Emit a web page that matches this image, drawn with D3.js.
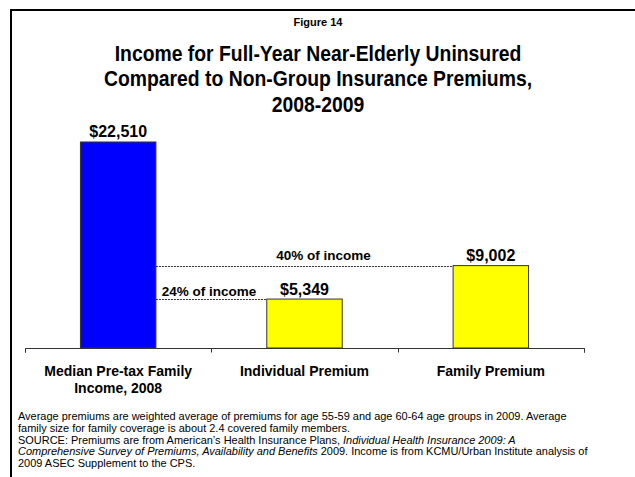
<!DOCTYPE html>
<html>
<head>
<meta charset="utf-8">
<script src="https://cdn.jsdelivr.net/npm/d3@7"></script>
<style>
  html, body { margin: 0; padding: 0; background: #fff; }
  svg { display: block; font-family: "Liberation Sans", Arial, sans-serif; }
</style>
</head>
<body>
<svg id="chart" width="635" height="477"></svg>
<script>
// Chart data
const categories = ["Median Pre-tax Family|Income, 2008", "Individual Premium", "Family Premium"];
const values = [22510, 5349, 9002];
const barColors = ["#0000FF", "#FFFF00", "#FFFF00"];
const valueLabels = ["$22,510", "$5,349", "$9,002"];
// Share of income represented by each premium
const shareLabels = ["24% of income", "40% of income"];

const titleLines = [
  "Income for Full-Year Near-Elderly Uninsured",
  "Compared to Non-Group Insurance Premiums,",
  "2008-2009"
];
const noteLines = [
  [{t: "Average premiums are weighted average of premiums for age 55-59 and age 60-64 age groups in 2009. Average"}],
  [{t: "family size for family coverage is about 2.4 covered family members."}],
  [{t: "SOURCE: Premiums are from American\u2019s Health Insurance Plans, "}, {t: "Individual Health Insurance 2009: A", i: true}],
  [{t: "Comprehensive Survey of Premiums, Availability and Benefits", i: true}, {t: " 2009.  Income is from KCMU/Urban Institute analysis of"}],
  [{t: "2009 ASEC Supplement to the CPS."}]
];

const svg = d3.select("#chart");

// Frame
svg.append("line").attr("x1", 10).attr("x2", 635).attr("y1", 10).attr("y2", 10)
  .attr("stroke", "#000").attr("stroke-width", 2);
svg.append("line").attr("x1", 11).attr("x2", 11).attr("y1", 9).attr("y2", 477)
  .attr("stroke", "#000").attr("stroke-width", 2);

// Titles (set slightly condensed)
const cxTitle = 318;
svg.append("text").attr("x", cxTitle).attr("y", 26).attr("text-anchor", "middle")
  .attr("font-size", 11).attr("font-weight", "bold").text("Figure 14");
svg.append("g")
  .attr("transform", `translate(${cxTitle},0) scale(0.88,1)`)
  .selectAll("text").data(titleLines).join("text")
  .attr("x", 0).attr("y", (d, i) => 61 + i * 25.5)
  .attr("text-anchor", "middle").attr("font-size", 22).attr("font-weight", "bold")
  .text(d => d);

// Scales
const x = d3.scaleBand().domain(categories).range([25, 584]).paddingInner(0).paddingOuter(0);
const y = d3.scaleLinear().domain([0, 25000]).range([348, 119.2]);
const barW = x.bandwidth() * 0.405;
const cx = d => x(d) + x.bandwidth() / 2;

// Bars
svg.selectAll("rect.bar").data(values).join("rect")
  .attr("class", "bar")
  .attr("x", (d, i) => cx(categories[i]) - barW / 2)
  .attr("y", d => y(d))
  .attr("width", barW)
  .attr("height", d => y(0) - y(d))
  .attr("fill", (d, i) => barColors[i])
  .attr("stroke", "#333").attr("stroke-width", 1);

// Value labels
svg.selectAll("text.val").data(values).join("text")
  .attr("class", "val")
  .attr("x", (d, i) => cx(categories[i]))
  .attr("y", d => y(d) - 4.5)
  .attr("text-anchor", "middle").attr("font-size", 16).attr("font-weight", "bold")
  .text((d, i) => valueLabels[i]);

// Dotted reference lines from the income bar to each premium bar
const incomeRight = cx(categories[0]) + barW / 2;
[1, 2].forEach(k => {
  const yy = Math.round(y(values[k])) + 0.5;
  svg.append("line")
    .attr("x1", incomeRight).attr("x2", cx(categories[k]) - barW / 2)
    .attr("y1", yy).attr("y2", yy)
    .attr("stroke", "#333").attr("stroke-width", 1).attr("stroke-dasharray", "2,1");
});
svg.append("text").attr("x", 209).attr("y", y(values[1]) - 3.5)
  .attr("text-anchor", "middle")
  .attr("font-size", 13.5).attr("font-weight", "bold").text(shareLabels[0]);
svg.append("text").attr("x", 323.5).attr("y", y(values[2]) - 5.5)
  .attr("text-anchor", "middle")
  .attr("font-size", 13.5).attr("font-weight", "bold").text(shareLabels[1]);

// Category axis
const axis = d3.axisBottom(x).tickSize(0).tickFormat(() => "");
const gAxis = svg.append("g").attr("transform", "translate(0,348.5)").call(axis);
gAxis.select(".domain").attr("stroke", "#333").attr("d", "M25.5,4V0H584.5V4");
const edges = categories.map(c => x(c)).concat([x.range()[1]]);
gAxis.selectAll("line.edge").data(edges).join("line")
  .attr("class", "edge")
  .attr("x1", d => Math.round(d) + 0.5).attr("x2", d => Math.round(d) + 0.5)
  .attr("y1", 0).attr("y2", 4).attr("stroke", "#333");

// Category labels
categories.forEach(c => {
  const parts = c.split("|");
  const t = svg.append("text").attr("x", cx(c)).attr("y", 375.5)
    .attr("text-anchor", "middle").attr("font-size", 14).attr("font-weight", "bold");
  parts.forEach((p, i) => {
    t.append("tspan").attr("x", cx(c)).attr("dy", i === 0 ? 0 : 17.5).text(p);
  });
});

// Notes
const notes = svg.append("g").attr("font-size", 10.3)
  .attr("transform", "translate(18,0) scale(1.066,1)");
noteLines.forEach((segs, i) => {
  const t = notes.append("text").attr("x", 0).attr("y", 420 + i * 11.8);
  segs.forEach(s => t.append("tspan").attr("font-style", s.i ? "italic" : null).text(s.t));
});
</script>
</body>
</html>
